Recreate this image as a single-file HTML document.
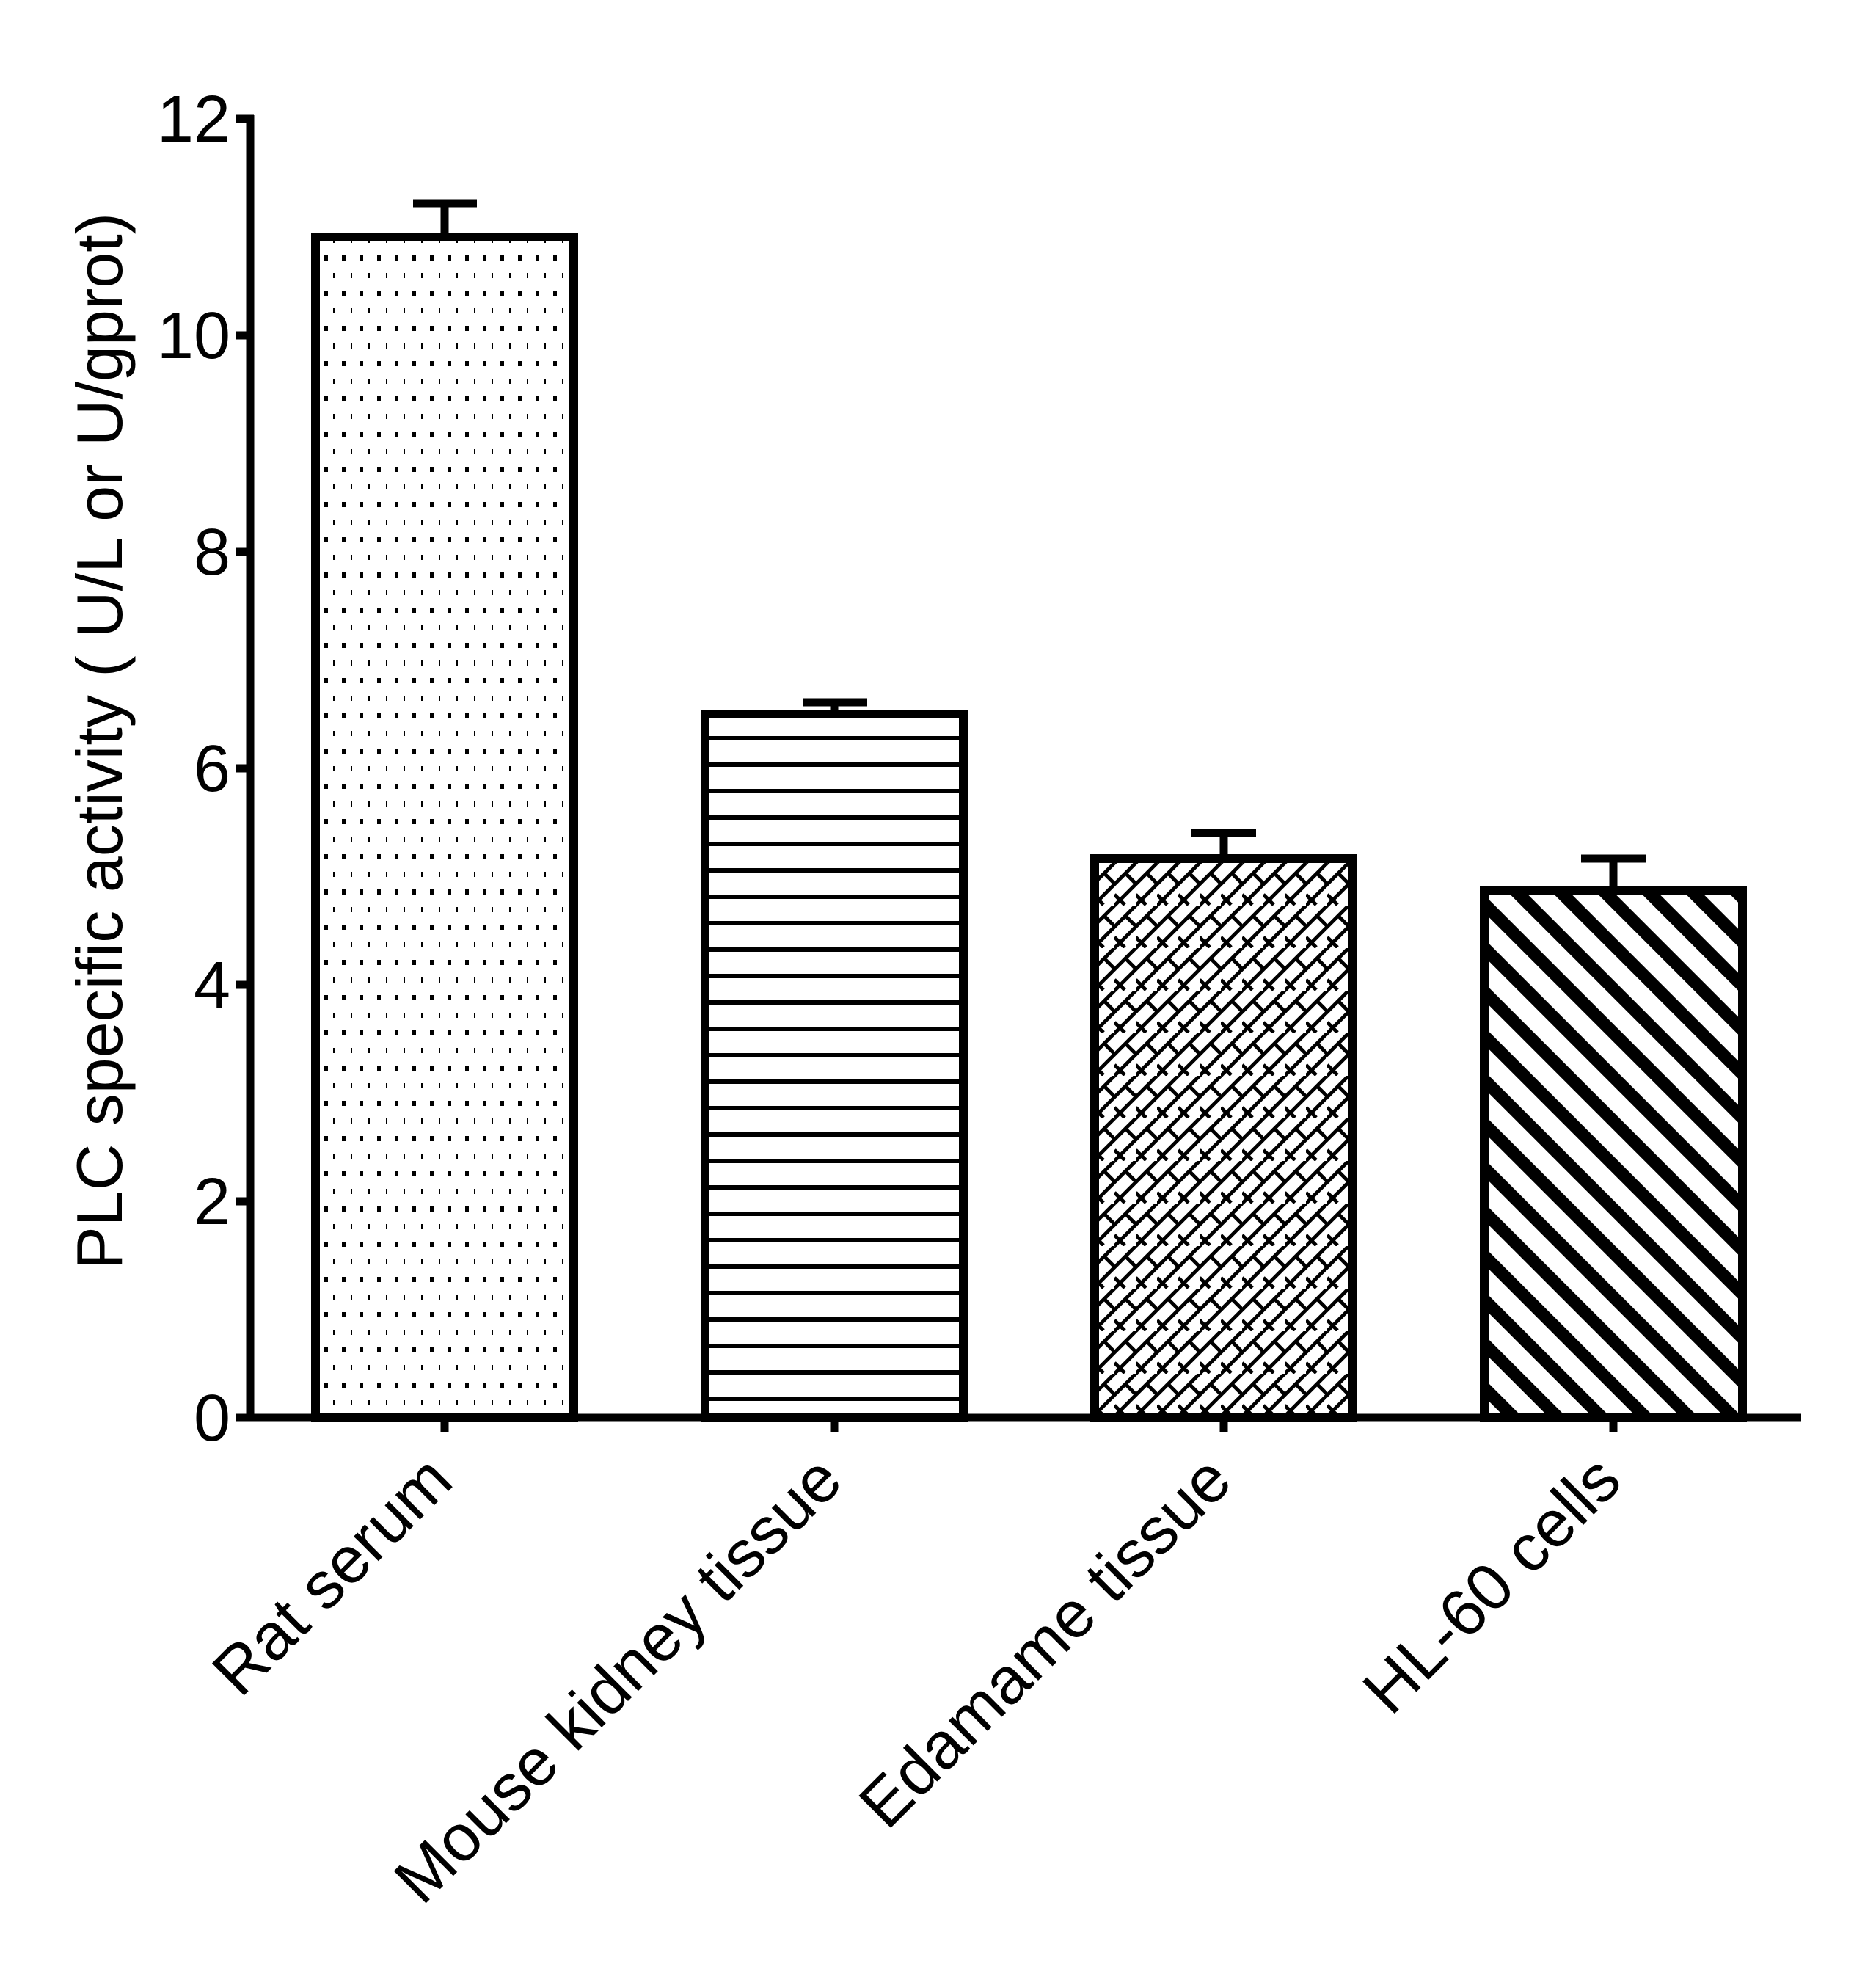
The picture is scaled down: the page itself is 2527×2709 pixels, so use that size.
<!DOCTYPE html>
<html><head><meta charset="utf-8"><style>html,body{margin:0;padding:0;background:#fff}svg{display:block}</style></head>
<body>
<svg width="2527" height="2709" viewBox="0 0 2527 2709" xmlns="http://www.w3.org/2000/svg" font-family="Liberation Sans, Arial, sans-serif">
<defs>
<pattern id="dots" patternUnits="userSpaceOnUse" width="24" height="48" x="432" y="0">
<rect x="10" y="12" width="5" height="7" fill="#000"/>
<rect x="22" y="36" width="5" height="7" fill="#000"/>
</pattern>
<pattern id="hlines" patternUnits="userSpaceOnUse" width="40" height="36" x="0" y="1006">
<rect x="0" y="-3" width="40" height="6" fill="#000"/>
<rect x="0" y="33" width="40" height="6" fill="#000"/>
</pattern>
<pattern id="brick" patternUnits="userSpaceOnUse" width="29" height="58" x="1490" y="1176">
<g stroke="#000" stroke-width="5" fill="none">
<line x1="-29" y1="58" x2="29" y2="0"/>
<line x1="0" y1="58" x2="58" y2="0"/>
<line x1="-29" y1="29" x2="0" y2="0"/>
<line x1="0" y1="0" x2="29" y2="-29"/>
<line x1="15" y1="14" x2="29" y2="28"/>
<line x1="0" y1="43" x2="14" y2="57"/>
</g>
</pattern>
<pattern id="diag2" patternUnits="userSpaceOnUse" width="42.4" height="42.4" patternTransform="rotate(-45)">
<rect x="0" y="0" width="17" height="42.4" fill="#000"/>
</pattern>
</defs>

<rect x="430" y="323" width="352" height="1609" fill="#fff"/>
<rect x="430" y="323" width="352" height="1609" fill="url(#dots)"/>
<rect x="430" y="323" width="352" height="1609" fill="none" stroke="#000" stroke-width="12"/>

<rect x="961" y="973" width="352" height="959" fill="#fff"/>
<rect x="961" y="973" width="352" height="959" fill="url(#hlines)"/>
<rect x="961" y="973" width="352" height="959" fill="none" stroke="#000" stroke-width="12"/>

<rect x="1492" y="1170" width="352" height="762" fill="#fff"/>
<rect x="1492" y="1170" width="352" height="762" fill="url(#brick)"/>
<rect x="1492" y="1170" width="352" height="762" fill="none" stroke="#000" stroke-width="12"/>

<rect x="2023" y="1213" width="352" height="719" fill="#fff"/>
<rect x="2023" y="1213" width="352" height="719" fill="url(#diag2)"/>
<rect x="2023" y="1213" width="352" height="719" fill="none" stroke="#000" stroke-width="12"/>

<g stroke="#000" stroke-width="11">
<line x1="606" y1="323" x2="606" y2="277"/><line x1="563" y1="277" x2="650" y2="277"/>
<line x1="1137" y1="973" x2="1137" y2="957"/><line x1="1094" y1="957" x2="1182" y2="957"/>
<line x1="1668" y1="1170" x2="1668" y2="1135"/><line x1="1624" y1="1135" x2="1712" y2="1135"/>
<line x1="2199" y1="1213" x2="2199" y2="1170"/><line x1="2155" y1="1170" x2="2243" y2="1170"/>
</g>

<g stroke="#000" stroke-width="11" fill="none">
<line x1="341" y1="157" x2="341" y2="1937"/>
<line x1="322" y1="1932" x2="2455" y2="1932"/>
<line x1="322" y1="162" x2="346" y2="162"/>
<line x1="322" y1="457" x2="346" y2="457"/>
<line x1="322" y1="752" x2="346" y2="752"/>
<line x1="322" y1="1047" x2="346" y2="1047"/>
<line x1="322" y1="1342" x2="346" y2="1342"/>
<line x1="322" y1="1637" x2="346" y2="1637"/>
<line x1="606" y1="1932" x2="606" y2="1951"/>
<line x1="1137" y1="1932" x2="1137" y2="1951"/>
<line x1="1668" y1="1932" x2="1668" y2="1951"/>
<line x1="2199" y1="1932" x2="2199" y2="1951"/>
</g>

<g font-size="90" text-anchor="end" fill="#000">
<text x="314" y="193">12</text>
<text x="314" y="488">10</text>
<text x="314" y="783">8</text>
<text x="314" y="1078">6</text>
<text x="314" y="1373">4</text>
<text x="314" y="1668">2</text>
<text x="314" y="1963">0</text>
</g>

<text transform="translate(166,1010) rotate(-90)" text-anchor="middle" font-size="88" textLength="1440" lengthAdjust="spacingAndGlyphs">PLC specific activity ( U/L or U/gprot)</text>

<g font-size="90" text-anchor="end">
<text transform="translate(621,2022) rotate(-45)">Rat serum</text>
<text transform="translate(1152,2022) rotate(-45)">Mouse kidney tissue</text>
<text transform="translate(1683,2022) rotate(-45)">Edamame tissue</text>
<text transform="translate(2214,2022) rotate(-45)">HL-60 cells</text>
</g>
</svg>
</body></html>
